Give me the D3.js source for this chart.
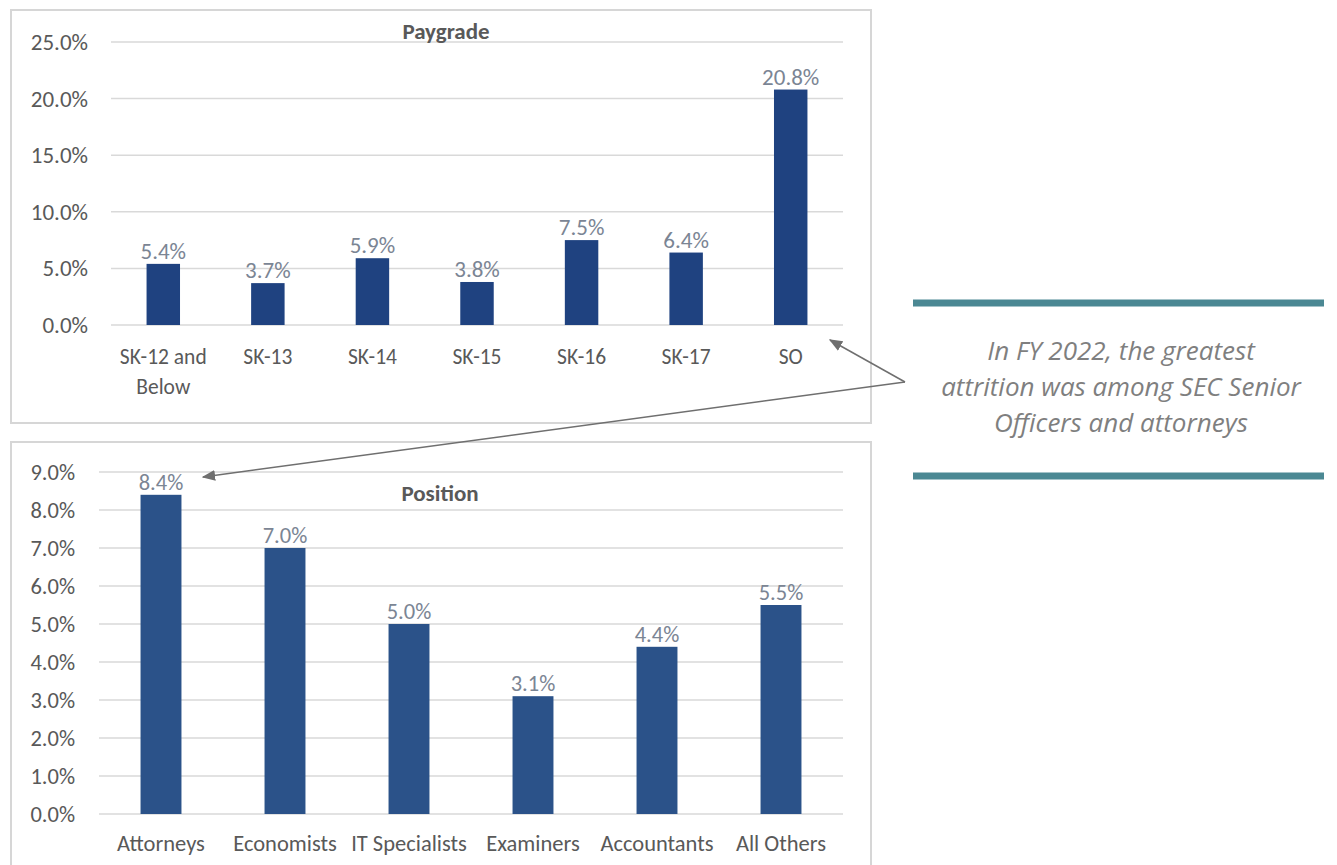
<!DOCTYPE html>
<html>
<head>
<meta charset="utf-8">
<script src="https://cdn.jsdelivr.net/npm/d3@7"></script>
<style>
  body { margin: 0; background: #fff; }
  svg { display: block; font-family: Carlito, "Open Sans", sans-serif; }
</style>
</head>
<body>
<div id="chart"></div>
<script>
// chart data
const paygradeCats = ["SK-12 and|Below", "SK-13", "SK-14", "SK-15", "SK-16", "SK-17", "SO"];
const paygradeVals = [5.4, 3.7, 5.9, 3.8, 7.5, 6.4, 20.8];
const paygradeTicks = [0, 5, 10, 15, 20, 25];

const positionCats = ["Attorneys", "Economists", "IT Specialists", "Examiners", "Accountants", "All Others"];
const positionVals = [8.4, 7.0, 5.0, 3.1, 4.4, 5.5];
const positionTicks = [0, 1, 2, 3, 4, 5, 6, 7, 8, 9];

const calloutLines = ["In FY 2022, the greatest", "attrition was among SEC Senior", "Officers and attorneys"];

const svg = d3.select("#chart").append("svg")
    .attr("width", 1337)
    .attr("height", 865);

svg.append("rect").attr("width", 1337).attr("height", 865).attr("fill", "#fff");

// draws one framed bar chart
function drawPanel(opts) {
    const g = svg.append("g");

    // frame
    g.append("rect")
        .attr("x", opts.frame[0]).attr("y", opts.frame[1])
        .attr("width", opts.frame[2]).attr("height", opts.frame[3])
        .attr("fill", "#fff")
        .attr("stroke", "#d6d6d6")
        .attr("stroke-width", 2);

    const x = d3.scaleBand()
        .domain(opts.cats)
        .range(opts.xRange)
        .paddingInner(opts.pad)
        .paddingOuter(opts.pad / 2);

    const y = d3.scaleLinear()
        .domain([0, d3.max(opts.ticks)])
        .range(opts.yRange);

    // gridlines
    g.append("g").selectAll("line")
        .data(opts.ticks)
        .join("line")
        .attr("x1", opts.xRange[0]).attr("x2", opts.xRange[1])
        .attr("y1", d => y(d)).attr("y2", d => y(d))
        .attr("stroke", "#d9d9d9")
        .attr("stroke-width", 1.5);

    // y tick labels
    g.append("g").selectAll("text")
        .data(opts.ticks)
        .join("text")
        .attr("x", opts.tickX)
        .attr("y", d => y(d))
        .attr("dy", "0.35em")
        .attr("text-anchor", "end")
        .attr("fill", "#595959")
        .attr("font-size", opts.numSize)
        .text(d => d.toFixed(1) + "%");

    // bars
    g.append("g").selectAll("rect")
        .data(opts.vals)
        .join("rect")
        .attr("x", (d, i) => x(opts.cats[i]))
        .attr("y", d => y(d))
        .attr("width", x.bandwidth())
        .attr("height", d => y(0) - y(d))
        .attr("fill", opts.color);

    // data labels
    g.append("g").selectAll("text")
        .data(opts.vals)
        .join("text")
        .attr("x", (d, i) => x(opts.cats[i]) + x.bandwidth() / 2)
        .attr("y", d => y(d) - 5)
        .attr("text-anchor", "middle")
        .attr("fill", "#7b8594")
        .attr("font-size", opts.numSize)
        .text(d => d.toFixed(1) + "%");

    // category labels (| splits lines)
    const cat = g.append("g").selectAll("text")
        .data(opts.cats)
        .join("text")
        .attr("x", d => x(d) + x.bandwidth() / 2)
        .attr("y", y(0) + opts.catDy)
        .attr("text-anchor", "middle")
        .attr("fill", "#595959")
        .attr("font-size", opts.catSize);
    cat.each(function(d) {
        const parts = d.split("|");
        d3.select(this).selectAll("tspan")
            .data(parts)
            .join("tspan")
            .attr("x", x(d) + x.bandwidth() / 2)
            .attr("dy", (p, i) => i === 0 ? 0 : 30)
            .text(p => p);
    });

    // title
    g.append("text")
        .attr("x", opts.title[1])
        .attr("y", opts.title[2])
        .attr("text-anchor", "middle")
        .attr("fill", "#595959")
        .attr("font-size", 23)
        .attr("font-weight", "bold")
        .text(opts.title[0]);
}

drawPanel({
    frame: [11, 10, 860, 413],
    cats: paygradeCats,
    vals: paygradeVals,
    ticks: paygradeTicks,
    xRange: [111, 843],
    yRange: [325, 42],
    pad: 0.68,
    tickX: 88,
    catDy: 39,
    numSize: 23,
    catSize: 21.5,
    color: "#1f4280",
    title: ["Paygrade", 446, 39]
});

drawPanel({
    frame: [11, 442, 860, 440],
    cats: positionCats,
    vals: positionVals,
    ticks: positionTicks,
    xRange: [99, 843],
    yRange: [814, 472],
    pad: 0.67,
    tickX: 75,
    catDy: 37,
    numSize: 22.5,
    catSize: 22.5,
    color: "#2b5289",
    title: ["Position", 440, 501]
});

// callout
const callout = svg.append("g");
[303, 476].forEach(yy => {
    callout.append("line")
        .attr("x1", 913).attr("x2", 1324)
        .attr("y1", yy).attr("y2", yy)
        .attr("stroke", "#4b8893")
        .attr("stroke-width", 7);
});
callout.append("g").selectAll("text")
    .data(calloutLines)
    .join("text")
    .attr("x", 1121)
    .attr("y", (d, i) => 360 + i * 36)
    .attr("text-anchor", "middle")
    .attr("fill", "#7f7f7f")
    .attr("font-family", "'Open Sans', sans-serif")
    .attr("font-size", 26)
    .attr("font-style", "italic")
    .text(d => d);

// arrows
const defs = svg.append("defs");
defs.append("marker")
    .attr("id", "head")
    .attr("viewBox", "0 0 10 10")
    .attr("refX", 9).attr("refY", 5)
    .attr("markerWidth", 9).attr("markerHeight", 9)
    .attr("orient", "auto")
    .append("path")
    .attr("d", "M0,1 L10,5 L0,9 Z")
    .attr("fill", "#6f6f6f");

const apex = [905, 382];
[[830, 340], [203, 477]].forEach(tip => {
    svg.append("line")
        .attr("x1", apex[0]).attr("y1", apex[1])
        .attr("x2", tip[0]).attr("y2", tip[1])
        .attr("stroke", "#6f6f6f")
        .attr("stroke-width", 1.5)
        .attr("marker-end", "url(#head)");
});
</script>
</body>
</html>
